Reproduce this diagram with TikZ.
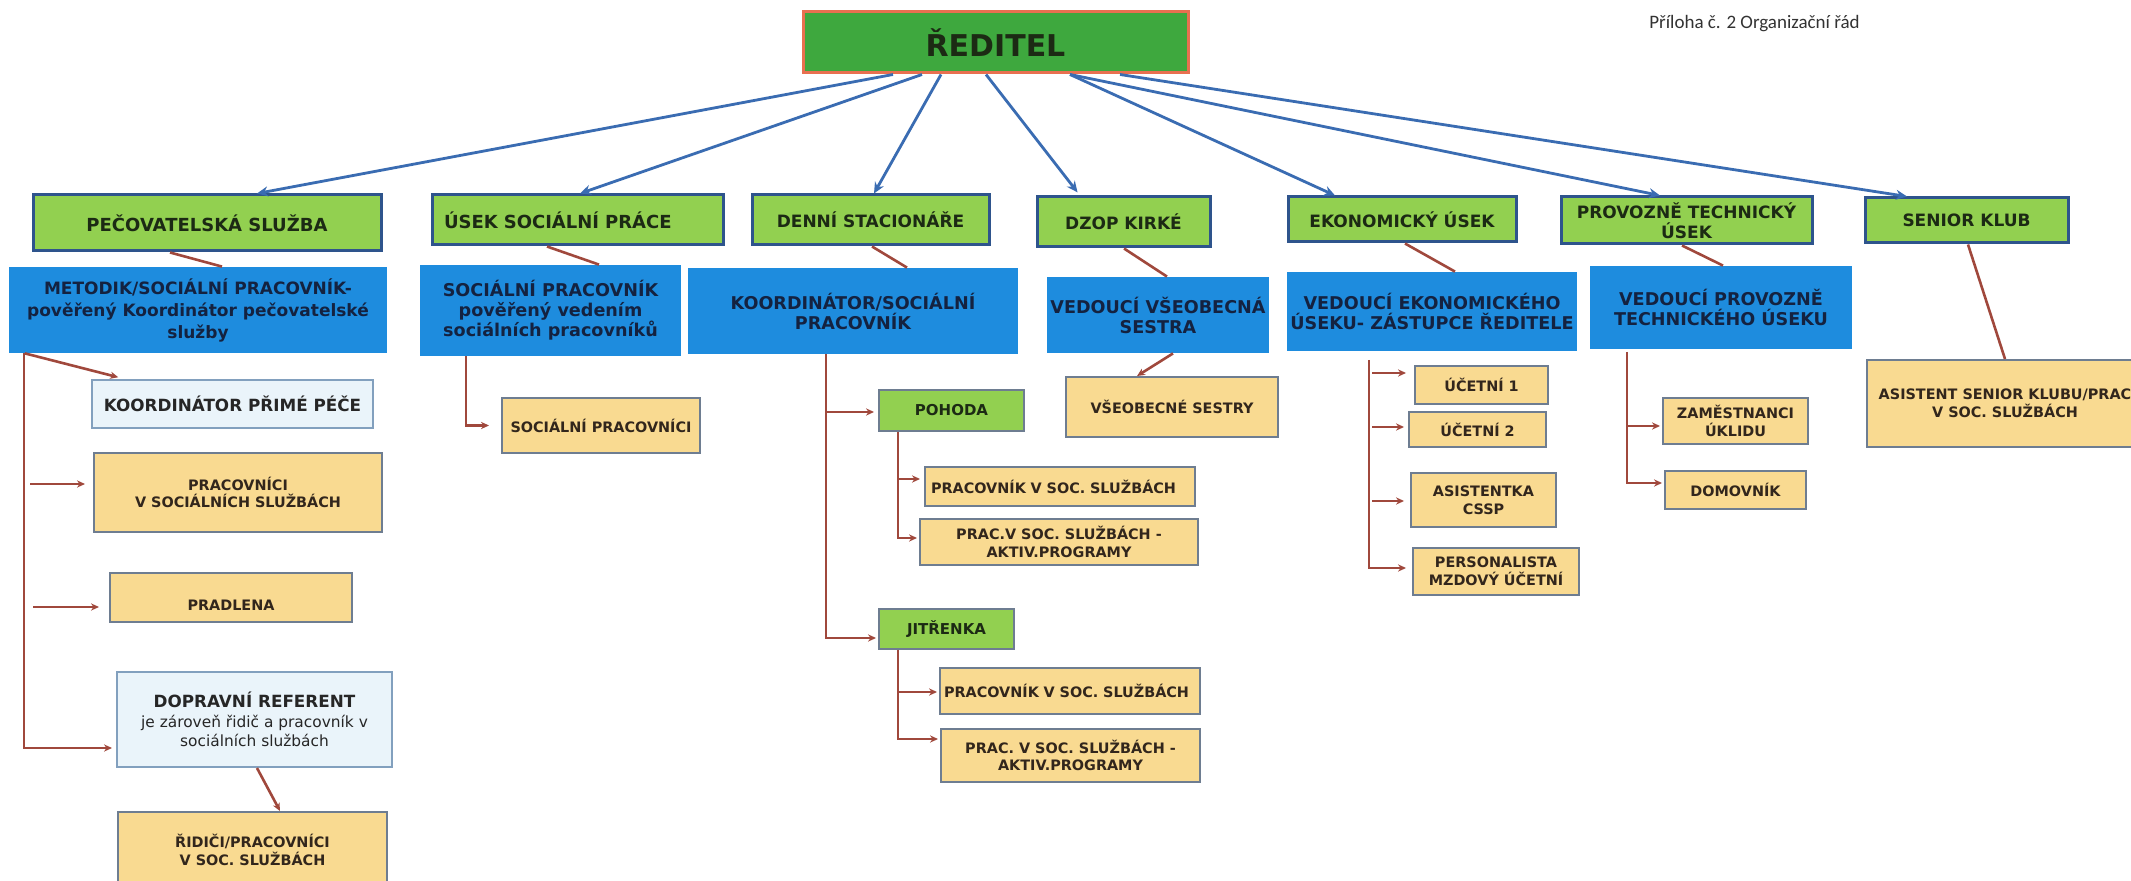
\documentclass[tikz,border=0pt]{standalone}
\usepackage{fontspec}
\setmainfont{DejaVu Sans}
\newfontfamily\carl{Carlito}
\usetikzlibrary{arrows.meta}
\definecolor{lgreen}{RGB}{146,208,80}
\definecolor{dgreen}{RGB}{62,168,62}
\definecolor{redb}{RGB}{232,112,80}
\definecolor{bluebox}{RGB}{30,140,222}
\definecolor{lblue}{RGB}{234,244,250}
\definecolor{tanf}{RGB}{249,218,145}
\definecolor{bord}{RGB}{46,84,140}
\definecolor{tanbord}{RGB}{110,125,145}
\definecolor{lbbord}{RGB}{130,160,190}
\definecolor{arrblue}{RGB}{58,108,178}
\definecolor{brownc}{RGB}{160,72,60}
\definecolor{txtg}{RGB}{28,42,20}
\definecolor{txtb}{RGB}{20,34,64}
\definecolor{txtt}{RGB}{50,38,28}
\begin{document}
\begin{tikzpicture}[x=0.5pt,y=-0.5pt,
  rect/.style n args={4}{minimum width={(#3-#1)*0.5pt}, minimum height={(#4-#2)*0.5pt}, at={({(#1+#3)/2},{(#2+#4)/2})}},
  box/.style={inner sep=0pt, align=center},
  dirbox/.style={box, fill=dgreen, draw=redb, line width=1.5pt, text=txtg, font=\bfseries\fontsize{15}{18}\selectfont},
  lvl1/.style={box, fill=lgreen, draw=bord, line width=1.5pt, text=txtg, font=\bfseries\fontsize{8.5}{10}\selectfont},
  blu/.style={box, fill=bluebox, text=txtb, font=\bfseries\fontsize{8.8}{10}\selectfont},
  lbb/.style={box, fill=lblue, draw=lbbord, line width=1pt, text=black!85},
  tanb/.style={box, fill=tanf, draw=tanbord, line width=1pt, text=txtt, font=\bfseries\fontsize{7.2}{8.8}\selectfont},
  smg/.style={box, fill=lgreen, draw=tanbord, line width=1pt, text=txtg, font=\bfseries\fontsize{7.5}{9}\selectfont},
  con/.style={draw=brownc, line width=1.3pt},
  carr/.style={con, -{Stealth[length=4pt,width=3.6pt]}},
  barr/.style={draw=arrblue, line width=1.4pt, -{Stealth[length=5.5pt,width=5pt]}}
]
\useasboundingbox (0,0) rectangle (2131,881);
\clip (0,0) rectangle (2131,881);
\fill[white] (0,0) rectangle (2131,881);

% top
\node[dirbox, rect={803}{12}{1188}{73}] (dir) {ŘEDITEL};
\node[inner sep=0pt, anchor=west, text=black!80, font=\carl\fontsize{9.5}{11}\selectfont] (pril) at (1649,24) {Příloha č. 2 Organizační řád};

% level 1
\node[lvl1, rect={33}{195}{381}{251}, font=\bfseries\fontsize{9}{10}\selectfont] (ps) {PEČOVATELSKÁ SLUŽBA};
\node[lvl1, rect={432}{195}{723}{245}, text width=133.5pt, align=left, font=\bfseries\fontsize{9}{10}\selectfont] (usp) {ÚSEK SOCIÁLNÍ PRÁCE};
\node[lvl1, rect={752}{195}{989}{245}] (ds) {DENNÍ STACIONÁŘE};
\node[lvl1, rect={1037}{197}{1210}{247}] (dzop) {DZOP KIRKÉ};
\node[lvl1, rect={1288}{197}{1516}{242}] (ek) {EKONOMICKÝ ÚSEK};
\node[lvl1, rect={1561}{197}{1812}{244}] (pt) {PROVOZNĚ TECHNICKÝ\\ÚSEK};
\node[lvl1, rect={1865}{198}{2068}{243}] (sk) {SENIOR KLUB};

% level 2
\node[blu, rect={9}{267}{387}{353}, font=\bfseries\fontsize{8.5}{11}\selectfont] (met) {METODIK/SOCIÁLNÍ PRACOVNÍK-\\pověřený Koordinátor pečovatelské\\služby};
\node[blu, rect={420}{265}{681}{356}] (sp) {SOCIÁLNÍ PRACOVNÍK\\pověřený vedením\\sociálních pracovníků};
\node[blu, rect={688}{268}{1018}{354}] (koord) {KOORDINÁTOR/SOCIÁLNÍ\\PRACOVNÍK};
\node[blu, rect={1047}{277}{1269}{353}] (vvs) {VEDOUCÍ VŠEOBECNÁ\\SESTRA};
\node[blu, rect={1287}{272}{1577}{351}] (ve) {VEDOUCÍ EKONOMICKÉHO\\ÚSEKU- ZÁSTUPCE ŘEDITELE};
\node[blu, rect={1590}{266}{1852}{349}] (vpt) {VEDOUCÍ PROVOZNĚ\\TECHNICKÉHO ÚSEKU};

% pečovatelská služba column
\node[lbb, rect={92}{380}{373}{428}, font=\bfseries\fontsize{8.4}{10}\selectfont] (kpp) {KOORDINÁTOR PŘIMÉ PÉČE};
\node[tanb, rect={94}{453}{382}{532}] (prac) {PRACOVNÍCI\\V SOCIÁLNÍCH SLUŽBÁCH};
\node[tanb, rect={110}{573}{352}{622}] (pradl) {\raisebox{-4pt}[\height][\depth]{PRADLENA}};
\node[lbb, rect={117}{672}{392}{767}, font=\fontsize{7.7}{9.6}\selectfont] (dop) {{\bfseries\fontsize{8.4}{10}\selectfont DOPRAVNÍ REFERENT}\\je zároveň řidič a pracovník v\\sociálních službách};
\node[tanb, rect={118}{812}{387}{888}] (rid) {ŘIDIČI/PRACOVNÍCI\\V SOC. SLUŽBÁCH};

% sociální práce
\node[tanb, rect={502}{398}{700}{453}] (spci) {SOCIÁLNÍ PRACOVNÍCI};

% denní stacionáře
\node[smg, rect={879}{390}{1024}{431}] (poh) {POHODA};
\node[tanb, rect={925}{467}{1195}{506}, text width=129pt, align=left] (pvs1) {PRACOVNÍK V SOC. SLUŽBÁCH};
\node[tanb, rect={920}{519}{1198}{565}] (pv1) {PRAC.V SOC. SLUŽBÁCH -\\AKTIV.PROGRAMY};
\node[smg, rect={879}{609}{1014}{649}] (jit) {JITŘENKA};
\node[tanb, rect={940}{668}{1200}{714}, text width=126pt, align=left] (pvs2) {PRACOVNÍK V SOC. SLUŽBÁCH};
\node[tanb, rect={941}{729}{1200}{782}] (pv2) {PRAC. V SOC. SLUŽBÁCH -\\AKTIV.PROGRAMY};

% DZOP
\node[tanb, rect={1066}{377}{1278}{437}] (vs) {VŠEOBECNÉ SESTRY};

% ekonomický úsek
\node[tanb, rect={1415}{366}{1548}{404}] (uc1) {ÚČETNÍ 1};
\node[tanb, rect={1409}{412}{1546}{447}] (uc2) {ÚČETNÍ 2};
\node[tanb, rect={1411}{473}{1556}{527}] (asis) {ASISTENTKA\\CSSP};
\node[tanb, rect={1413}{548}{1579}{595}] (pers) {PERSONALISTA\\MZDOVÝ ÚČETNÍ};

% provozně technický
\node[tanb, rect={1663}{398}{1808}{444}] (zam) {ZAMĚSTNANCI\\ÚKLIDU};
\node[tanb, rect={1665}{471}{1806}{509}] (dom) {DOMOVNÍK};

% senior klub
\node[tanb, rect={1867}{360}{2143}{447}] (ask) {ASISTENT SENIOR KLUBU/PRAC\\V SOC. SLUŽBÁCH};

% blue arrows from director
\draw[barr] (dir.south -| 893,0) -- (ps.north -| 257,0);
\draw[barr] (dir.south -| 922,0) -- (usp.north -| 580,0);
\draw[barr] (dir.south -| 941,0) -- (ds.north -| 874,0);
\draw[barr, shorten >=2pt] (dir.south -| 986,0) -- (dzop.north -| 1080,0);
\draw[barr] (dir.south -| 1070,0) -- (ek.north -| 1335,0);
\draw[barr] (dir.south -| 1070,0) -- (pt.north -| 1660,0);
\draw[barr] (dir.south -| 1120,0) -- (sk.north -| 1907,0);

% brown connectors
\draw[con] (ps.south -| 170,0) -- (met.north -| 222,0);
\draw[carr, shorten >=3.5pt] (met.south -| 25,0) -- (kpp.north -| 125,0);
\draw[carr, shorten >=2pt] (met.south -| 24,0) |- (dop.west |- 0,748);
\coordinate (b1) at (30,484);
\draw[carr, shorten >=4pt] (b1) -- (b1 -| prac.west);
\coordinate (b2) at (33,607);
\draw[carr, shorten >=5pt] (b2) -- (b2 -| pradl.west);
\draw[carr] (dop.south -| 257,0) -- (rid.north -| 280,0);

\draw[con] (usp.south -| 547,0) -- (sp.north -| 599,0);
\draw[carr, shorten >=6pt] (sp.south -| 466,0) |- (spci.west);

\draw[con] (ds.south -| 872,0) -- (koord.north -| 907,0);
\draw[carr, shorten >=1pt] (koord.south -| 826,0) |- (jit.west |- 0,638);
\coordinate (k1) at (826,412);
\draw[carr, shorten >=2pt] (k1) -- (k1 -| poh.west);
\draw[carr, shorten >=1pt] (poh.south -| 898,0) |- (pv1.west |- 0,538);
\coordinate (p1) at (898,479);
\draw[carr, shorten >=2pt] (p1) -- (p1 -| pvs1.west);
\draw[carr, shorten >=1pt] (jit.south -| 898,0) |- (pv2.west |- 0,739);
\coordinate (j1) at (898,692);
\draw[carr, shorten >=1pt] (j1) -- (j1 -| pvs2.west);

\draw[con] (dzop.south -| 1124,0) -- (vvs.north -| 1167,0);
\draw[carr] (vvs.south -| 1173,0) -- (vs.north -| 1137,0);

\draw[con] (ek.south -| 1405,0) -- (ve.north -| 1455,0);
\coordinate (e0) at (1369,360);
\draw[carr, shorten >=3pt] (e0) |- (pers.west |- 0,568);
\coordinate (e1) at (1372,373);
\draw[carr, shorten >=4pt] (e1) -- (e1 -| uc1.west);
\coordinate (e2) at (1372,427);
\draw[carr, shorten >=2pt] (e2) -- (e2 -| uc2.west);
\coordinate (e3) at (1372,501);
\draw[carr, shorten >=3pt] (e3) -- (e3 -| asis.west);

\draw[con] (pt.south -| 1682,0) -- (vpt.north -| 1723,0);
\coordinate (t0) at (1627,352);
\draw[carr, shorten >=1pt] (t0) |- (dom.west |- 0,483);
\coordinate (t1) at (1627,426);
\draw[carr, shorten >=1pt] (t1) -- (t1 -| zam.west);

\draw[con] (sk.south -| 1968,0) -- (ask.north -| 2005,0);
\end{tikzpicture}
\end{document}
